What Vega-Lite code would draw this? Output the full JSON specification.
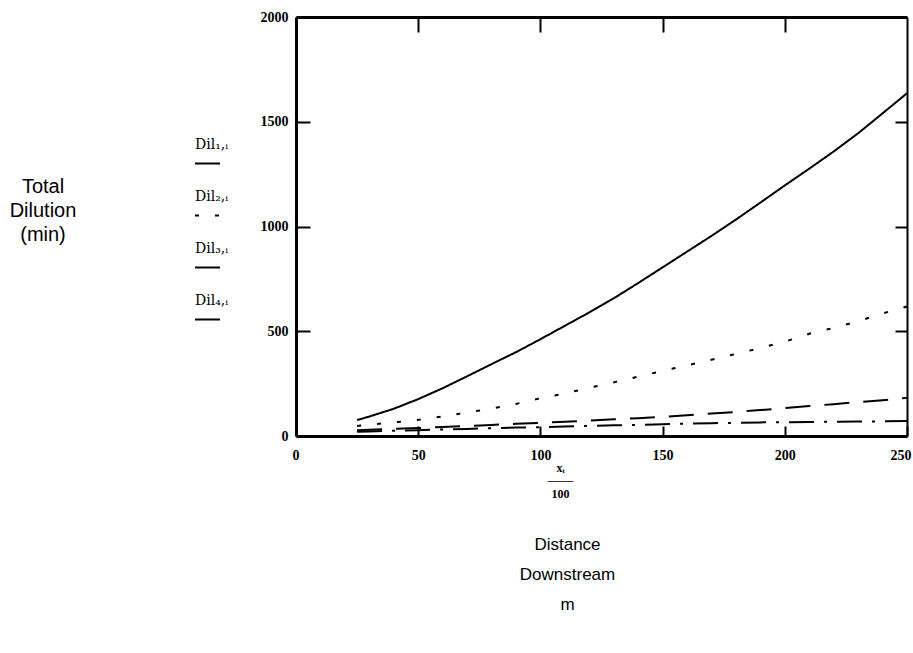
{
  "$schema": "https://vega.github.io/schema/vega-lite/v6.json",
  "width": 611,
  "height": 419,
  "autosize": {"type": "none"},
  "padding": {"left": 296, "top": 17, "right": 6, "bottom": 217},
  "background": "white",
  "config": {
    "view": {"stroke": null},
    "axis": {
      "grid": false,
      "domainColor": "black",
      "tickColor": "black",
      "labelColor": "black",
      "titleColor": "black",
      "labelFont": "Liberation Serif",
      "labelFontWeight": "bold",
      "labelFontSize": 14,
      "labelFlush": false,
      "labelOverlap": false
    }
  },
  "title": {
    "text": ["Distance", "Downstream", "m"],
    "orient": "bottom",
    "anchor": "middle",
    "font": "Liberation Sans",
    "fontSize": 17,
    "fontWeight": "normal",
    "lineHeight": 30,
    "offset": 38,
    "dx": -34,
    "color": "black"
  },
  "data": {
    "values": [
      {"series": "Dil₁,ᵢ", "x": 25, "dil": 76},
      {"series": "Dil₁,ᵢ", "x": 30, "dil": 93},
      {"series": "Dil₁,ᵢ", "x": 40, "dil": 130},
      {"series": "Dil₁,ᵢ", "x": 50, "dil": 176},
      {"series": "Dil₁,ᵢ", "x": 60, "dil": 228},
      {"series": "Dil₁,ᵢ", "x": 70, "dil": 285},
      {"series": "Dil₁,ᵢ", "x": 80, "dil": 343},
      {"series": "Dil₁,ᵢ", "x": 90, "dil": 400},
      {"series": "Dil₁,ᵢ", "x": 100, "dil": 462},
      {"series": "Dil₁,ᵢ", "x": 110, "dil": 526},
      {"series": "Dil₁,ᵢ", "x": 120, "dil": 590},
      {"series": "Dil₁,ᵢ", "x": 130, "dil": 657},
      {"series": "Dil₁,ᵢ", "x": 140, "dil": 730},
      {"series": "Dil₁,ᵢ", "x": 150, "dil": 805},
      {"series": "Dil₁,ᵢ", "x": 160, "dil": 880},
      {"series": "Dil₁,ᵢ", "x": 170, "dil": 955},
      {"series": "Dil₁,ᵢ", "x": 180, "dil": 1033},
      {"series": "Dil₁,ᵢ", "x": 190, "dil": 1114},
      {"series": "Dil₁,ᵢ", "x": 200, "dil": 1196},
      {"series": "Dil₁,ᵢ", "x": 210, "dil": 1276},
      {"series": "Dil₁,ᵢ", "x": 220, "dil": 1358},
      {"series": "Dil₁,ᵢ", "x": 230, "dil": 1445},
      {"series": "Dil₁,ᵢ", "x": 240, "dil": 1540},
      {"series": "Dil₁,ᵢ", "x": 250, "dil": 1636},
      {"series": "Dil₂,ᵢ", "x": 25, "dil": 48},
      {"series": "Dil₂,ᵢ", "x": 30, "dil": 54},
      {"series": "Dil₂,ᵢ", "x": 40, "dil": 65},
      {"series": "Dil₂,ᵢ", "x": 50, "dil": 77},
      {"series": "Dil₂,ᵢ", "x": 60, "dil": 93},
      {"series": "Dil₂,ᵢ", "x": 70, "dil": 112},
      {"series": "Dil₂,ᵢ", "x": 80, "dil": 131},
      {"series": "Dil₂,ᵢ", "x": 90, "dil": 153},
      {"series": "Dil₂,ᵢ", "x": 100, "dil": 180},
      {"series": "Dil₂,ᵢ", "x": 110, "dil": 203},
      {"series": "Dil₂,ᵢ", "x": 120, "dil": 230},
      {"series": "Dil₂,ᵢ", "x": 130, "dil": 256},
      {"series": "Dil₂,ᵢ", "x": 140, "dil": 283},
      {"series": "Dil₂,ᵢ", "x": 150, "dil": 311},
      {"series": "Dil₂,ᵢ", "x": 160, "dil": 337},
      {"series": "Dil₂,ᵢ", "x": 170, "dil": 364},
      {"series": "Dil₂,ᵢ", "x": 180, "dil": 392},
      {"series": "Dil₂,ᵢ", "x": 190, "dil": 420},
      {"series": "Dil₂,ᵢ", "x": 200, "dil": 450},
      {"series": "Dil₂,ᵢ", "x": 210, "dil": 488},
      {"series": "Dil₂,ᵢ", "x": 220, "dil": 516},
      {"series": "Dil₂,ᵢ", "x": 230, "dil": 548},
      {"series": "Dil₂,ᵢ", "x": 240, "dil": 585},
      {"series": "Dil₂,ᵢ", "x": 250, "dil": 618},
      {"series": "Dil₃,ᵢ", "x": 25, "dil": 28},
      {"series": "Dil₃,ᵢ", "x": 30, "dil": 30},
      {"series": "Dil₃,ᵢ", "x": 40, "dil": 34},
      {"series": "Dil₃,ᵢ", "x": 50, "dil": 38},
      {"series": "Dil₃,ᵢ", "x": 60, "dil": 43},
      {"series": "Dil₃,ᵢ", "x": 70, "dil": 48},
      {"series": "Dil₃,ᵢ", "x": 80, "dil": 53},
      {"series": "Dil₃,ᵢ", "x": 90, "dil": 58},
      {"series": "Dil₃,ᵢ", "x": 100, "dil": 63},
      {"series": "Dil₃,ᵢ", "x": 110, "dil": 68},
      {"series": "Dil₃,ᵢ", "x": 120, "dil": 74},
      {"series": "Dil₃,ᵢ", "x": 130, "dil": 80},
      {"series": "Dil₃,ᵢ", "x": 140, "dil": 85},
      {"series": "Dil₃,ᵢ", "x": 150, "dil": 91},
      {"series": "Dil₃,ᵢ", "x": 160, "dil": 99},
      {"series": "Dil₃,ᵢ", "x": 170, "dil": 107},
      {"series": "Dil₃,ᵢ", "x": 180, "dil": 115},
      {"series": "Dil₃,ᵢ", "x": 190, "dil": 124},
      {"series": "Dil₃,ᵢ", "x": 200, "dil": 133},
      {"series": "Dil₃,ᵢ", "x": 210, "dil": 143},
      {"series": "Dil₃,ᵢ", "x": 220, "dil": 152},
      {"series": "Dil₃,ᵢ", "x": 230, "dil": 162},
      {"series": "Dil₃,ᵢ", "x": 240, "dil": 171},
      {"series": "Dil₃,ᵢ", "x": 250, "dil": 182},
      {"series": "Dil₄,ᵢ", "x": 25, "dil": 20},
      {"series": "Dil₄,ᵢ", "x": 30, "dil": 22},
      {"series": "Dil₄,ᵢ", "x": 40, "dil": 25},
      {"series": "Dil₄,ᵢ", "x": 50, "dil": 28},
      {"series": "Dil₄,ᵢ", "x": 60, "dil": 31},
      {"series": "Dil₄,ᵢ", "x": 70, "dil": 34},
      {"series": "Dil₄,ᵢ", "x": 80, "dil": 37},
      {"series": "Dil₄,ᵢ", "x": 90, "dil": 40},
      {"series": "Dil₄,ᵢ", "x": 100, "dil": 42},
      {"series": "Dil₄,ᵢ", "x": 110, "dil": 45},
      {"series": "Dil₄,ᵢ", "x": 120, "dil": 48},
      {"series": "Dil₄,ᵢ", "x": 130, "dil": 51},
      {"series": "Dil₄,ᵢ", "x": 140, "dil": 53},
      {"series": "Dil₄,ᵢ", "x": 150, "dil": 56},
      {"series": "Dil₄,ᵢ", "x": 160, "dil": 59},
      {"series": "Dil₄,ᵢ", "x": 170, "dil": 61},
      {"series": "Dil₄,ᵢ", "x": 180, "dil": 63},
      {"series": "Dil₄,ᵢ", "x": 190, "dil": 65},
      {"series": "Dil₄,ᵢ", "x": 200, "dil": 66},
      {"series": "Dil₄,ᵢ", "x": 210, "dil": 67},
      {"series": "Dil₄,ᵢ", "x": 220, "dil": 68},
      {"series": "Dil₄,ᵢ", "x": 230, "dil": 69},
      {"series": "Dil₄,ᵢ", "x": 240, "dil": 70},
      {"series": "Dil₄,ᵢ", "x": 250, "dil": 72}
    ]
  },
  "layer": [
    {
      "mark": {"type": "line", "color": "black", "strokeWidth": 2},
      "encoding": {
        "x": {
          "field": "x",
          "type": "quantitative",
          "scale": {"domain": [0, 250], "nice": false},
          "axis": {
            "orient": "bottom",
            "values": [0, 50, 100, 150, 200, 250],
            "tickSize": -10,
            "tickWidth": 2,
            "domainWidth": 3,
            "labelPadding": 22,
            "labelFlush": true,
            "labelFlushOffset": 4,
            "title": ["xᵢ", "───", "100"],
            "titleFont": "Liberation Serif",
            "titleFontSize": 12,
            "titleFontWeight": "bold",
            "titleLineHeight": 13,
            "titlePadding": 0,
            "titleX": 264
          }
        },
        "y": {
          "field": "dil",
          "type": "quantitative",
          "scale": {"domain": [0, 2000], "nice": false},
          "axis": {
            "orient": "left",
            "values": [0, 500, 1000, 1500, 2000],
            "format": "d",
            "tickSize": -14,
            "tickWidth": 2,
            "domainWidth": 3,
            "labelPadding": 22,
            "title": null
          }
        },
        "strokeDash": {
          "field": "series",
          "type": "nominal",
          "scale": {
            "domain": ["Dil₁,ᵢ", "Dil₂,ᵢ", "Dil₃,ᵢ", "Dil₄,ᵢ"],
            "range": [[1, 0], [4, 16], [25, 14], [25, 10, 3, 10]]
          },
          "legend": {
            "orient": "none",
            "legendX": -286,
            "legendY": 133,
            "title": ["Total", "Dilution", "(min)"],
            "titleOrient": "left",
            "titleAnchor": "start",
            "titleFont": "Liberation Sans",
            "titleFontSize": 20,
            "titleFontWeight": "normal",
            "titleLineHeight": 24,
            "titleColor": "black",
            "titleAlign": "center",
            "titlePadding": 84,
            "symbolType": "stroke",
            "symbolSize": 625,
            "symbolStrokeWidth": 2,
            "symbolStrokeColor": "black",
            "labelFont": "DejaVu Serif",
            "labelFontSize": 14,
            "labelColor": "black",
            "labelBaseline": "alphabetic",
            "labelOffset": -26,
            "rowPadding": 21,
            "encode": {
              "labels": {"update": {"dy": {"value": -15}}},
              "title": {"update": {"dy": {"value": 27}}}
            }
          }
        }
      }
    },
    {
      "mark": {"type": "line", "opacity": 0},
      "encoding": {
        "x": {
          "field": "x",
          "type": "quantitative",
          "axis": {
            "orient": "top",
            "values": [50, 100, 150, 200],
            "tickSize": -15,
            "tickWidth": 2,
            "domainWidth": 3,
            "labels": false,
            "title": null
          }
        },
        "y": {
          "field": "dil",
          "type": "quantitative",
          "axis": {
            "orient": "right",
            "values": [500, 1000, 1500],
            "tickSize": -12,
            "tickWidth": 2,
            "domainWidth": 2,
            "labels": false,
            "title": null
          }
        },
        "detail": {"field": "series", "type": "nominal"}
      }
    }
  ],
  "resolve": {"axis": {"x": "independent", "y": "independent"}}
}
